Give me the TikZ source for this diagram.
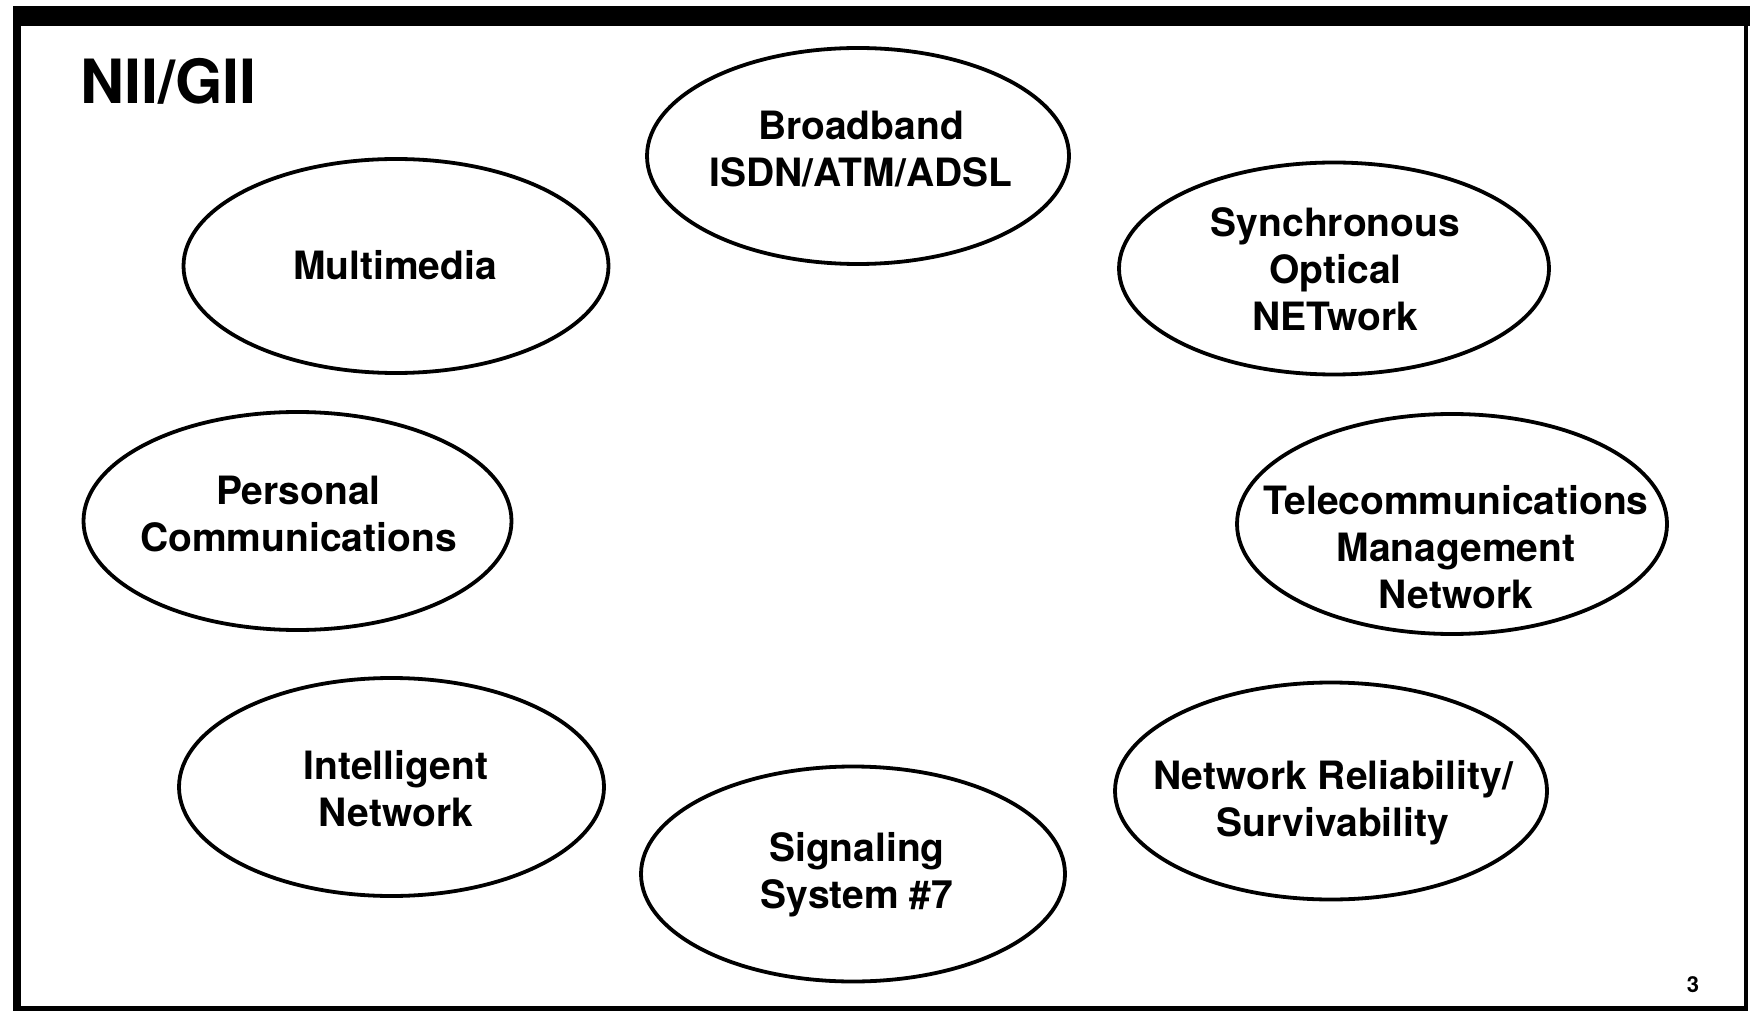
\documentclass[tikz,border=0pt]{standalone}
\usepackage{fontspec}
\setmainfont{TeX Gyre Heros}
\usetikzlibrary{shapes.geometric}

\tikzset{
  topic/.style={draw=black, line width=1.9pt, ellipse, inner sep=0pt, outer sep=0pt},
  topictext/.style={align=center, inner sep=0pt,
    font=\fontsize{19.5pt}{23.5pt}\selectfont\bfseries},
  framefill/.style={fill=black, draw=none}
}

\begin{document}
\begin{tikzpicture}[x=0.5pt, y=-0.5pt]
  \useasboundingbox (0,0) rectangle (1754,1015);
  \fill[white] (0,0) rectangle (1754,1015);

  % slide frame: heavy top bar, thick left rule, thinner right and bottom rules
  \fill[framefill] (14,6) rectangle (1750,26);
  \fill[framefill] (13,6) rectangle (21,1011);
  \fill[framefill] (13,1006) rectangle (1747,1011);
  \fill[framefill] (1744,6) rectangle (1748,1011);

  % title and page number
  \node[anchor=base west, inner sep=0pt,
        font=\fontsize{30.5pt}{36pt}\selectfont\bfseries] (title) at (80,104) {NII/GII};
  \node[inner sep=0pt, font=\fontsize{11pt}{13pt}\selectfont\bfseries] (page) at (1693,985) {3};

  % topic ellipses
  \node[topic, minimum width=211pt,   minimum height=108pt]   (bb)  at (858,156)  {};
  \node[topic, minimum width=212.5pt, minimum height=107pt]   (mm)  at (396,266)  {};
  \node[topic, minimum width=215pt,   minimum height=106pt]   (son) at (1334,268.5) {};
  \node[topic, minimum width=214pt,   minimum height=109pt]   (pc)  at (297.5,521) {};
  \node[topic, minimum width=215pt,   minimum height=110pt]   (tmn) at (1452,524) {};
  \node[topic, minimum width=212.5pt, minimum height=109pt]   (in)  at (391.5,787) {};
  \node[topic, minimum width=216pt,   minimum height=108.5pt] (nrs) at (1331,791) {};
  \node[topic, minimum width=212pt,   minimum height=107.5pt] (ss7) at (853,874)  {};

  % topic labels
  \node[topictext] (bbt)  at (861,149)    {Broadband\\ISDN/ATM/ADSL};
  \node[topictext] (mmt)  at (395,265)    {Multimedia};
  \node[topictext] (sont) at (1335.5,269) {Synchronous\\Optical\\NETwork};
  \node[topictext] (pct)  at (298.5,514)  {Personal\\Communications};
  \node[topictext] (tmnt) at (1456,547)   {Telecommunications\\Management\\Network};
  \node[topictext] (int)  at (396,789)    {Intelligent\\Network};
  \node[topictext] (nrst) at (1333,803)   {Network Reliability/\\Survivability};
  \node[topictext] (ss7t) at (857,875)    {Signaling\\System \#7};
\end{tikzpicture}
\end{document}
